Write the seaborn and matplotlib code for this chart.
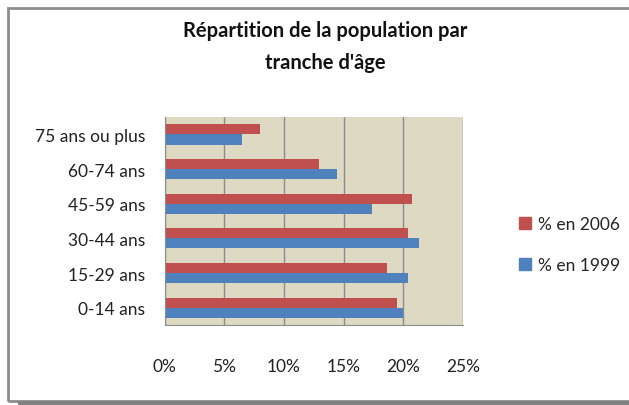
import matplotlib
matplotlib.use("Agg")
import matplotlib.pyplot as plt
import seaborn as sns
import pandas as pd
from matplotlib.patches import Rectangle
from matplotlib.ticker import FuncFormatter

# data
categories = ["75 ans ou plus", "60-74 ans", "45-59 ans", "30-44 ans", "15-29 ans", "0-14 ans"]
pct_2006 = [8.0, 12.9, 20.7, 20.4, 18.6, 19.5]
pct_1999 = [6.5, 14.4, 17.4, 21.3, 20.4, 20.0]
series = ["% en 2006", "% en 1999"]
x_ticks = [0, 5, 10, 15, 20, 25]

df = pd.DataFrame({
    "tranche": categories * 2,
    "valeur": pct_2006 + pct_1999,
    "serie": [series[0]] * len(categories) + [series[1]] * len(categories),
})

sns.set_style("white")
plt.rcParams["font.family"] = ["Lato", "DejaVu Sans"]

fig = plt.figure(figsize=(6.29, 4.06), dpi=100)
ax = fig.add_axes([0.262, 0.197, 0.474, 0.512])

sns.barplot(
    data=df, y="tranche", x="valeur", hue="serie", hue_order=series,
    order=categories, orient="h", palette=["#c0504d", "#4f81bd"],
    width=0.58, ax=ax, legend=False, linewidth=0, saturation=1,
)

ax.set_facecolor("#ddd9c3")
ax.set_xlim(0, 25)
ax.set_xticks(x_ticks)
ax.xaxis.set_major_formatter(FuncFormatter(lambda v, p: f"{v:.0f}%"))
ax.grid(axis="x", color="#8c8c8c", linewidth=1.0)
ax.set_axisbelow(True)
ax.set_xlabel("")
ax.set_ylabel("")
ax.tick_params(axis="x", length=0, pad=24, labelsize=12.5, colors="#222222")
ax.tick_params(axis="y", length=0, pad=14, labelsize=12.5, colors="#222222")
for side in ["top", "right"]:
    ax.spines[side].set_visible(False)
for side in ["left", "bottom"]:
    ax.spines[side].set_color("#8c8c8c")

# legend on the right
handles = [Rectangle((0, 0), 1, 1, color=c) for c in ["#c0504d", "#4f81bd"]]
fig.legend(handles, series, loc="center left", bbox_to_anchor=(0.80, 0.395),
           frameon=False, fontsize=12.5, handlelength=0.7, handleheight=0.7,
           handletextpad=0.4, labelspacing=1.4)

fig.suptitle("Répartition de la population par\ntranche d'âge", x=0.517, y=0.948,
             fontsize=14.5, fontweight="bold", linespacing=1.75, color="#111111")

# chart frame
fig.patches.append(Rectangle((8 / 629, 1 - 402 / 406), 640 / 629, 393 / 406,
                             transform=fig.transFigure, fill=False,
                             edgecolor="#8c8c8c", linewidth=2))
fig.patches.append(Rectangle((18 / 629, 0), 1, 4 / 406, transform=fig.transFigure,
                             facecolor="#808080", edgecolor="none"))

fig.savefig("out.png", dpi=100)
